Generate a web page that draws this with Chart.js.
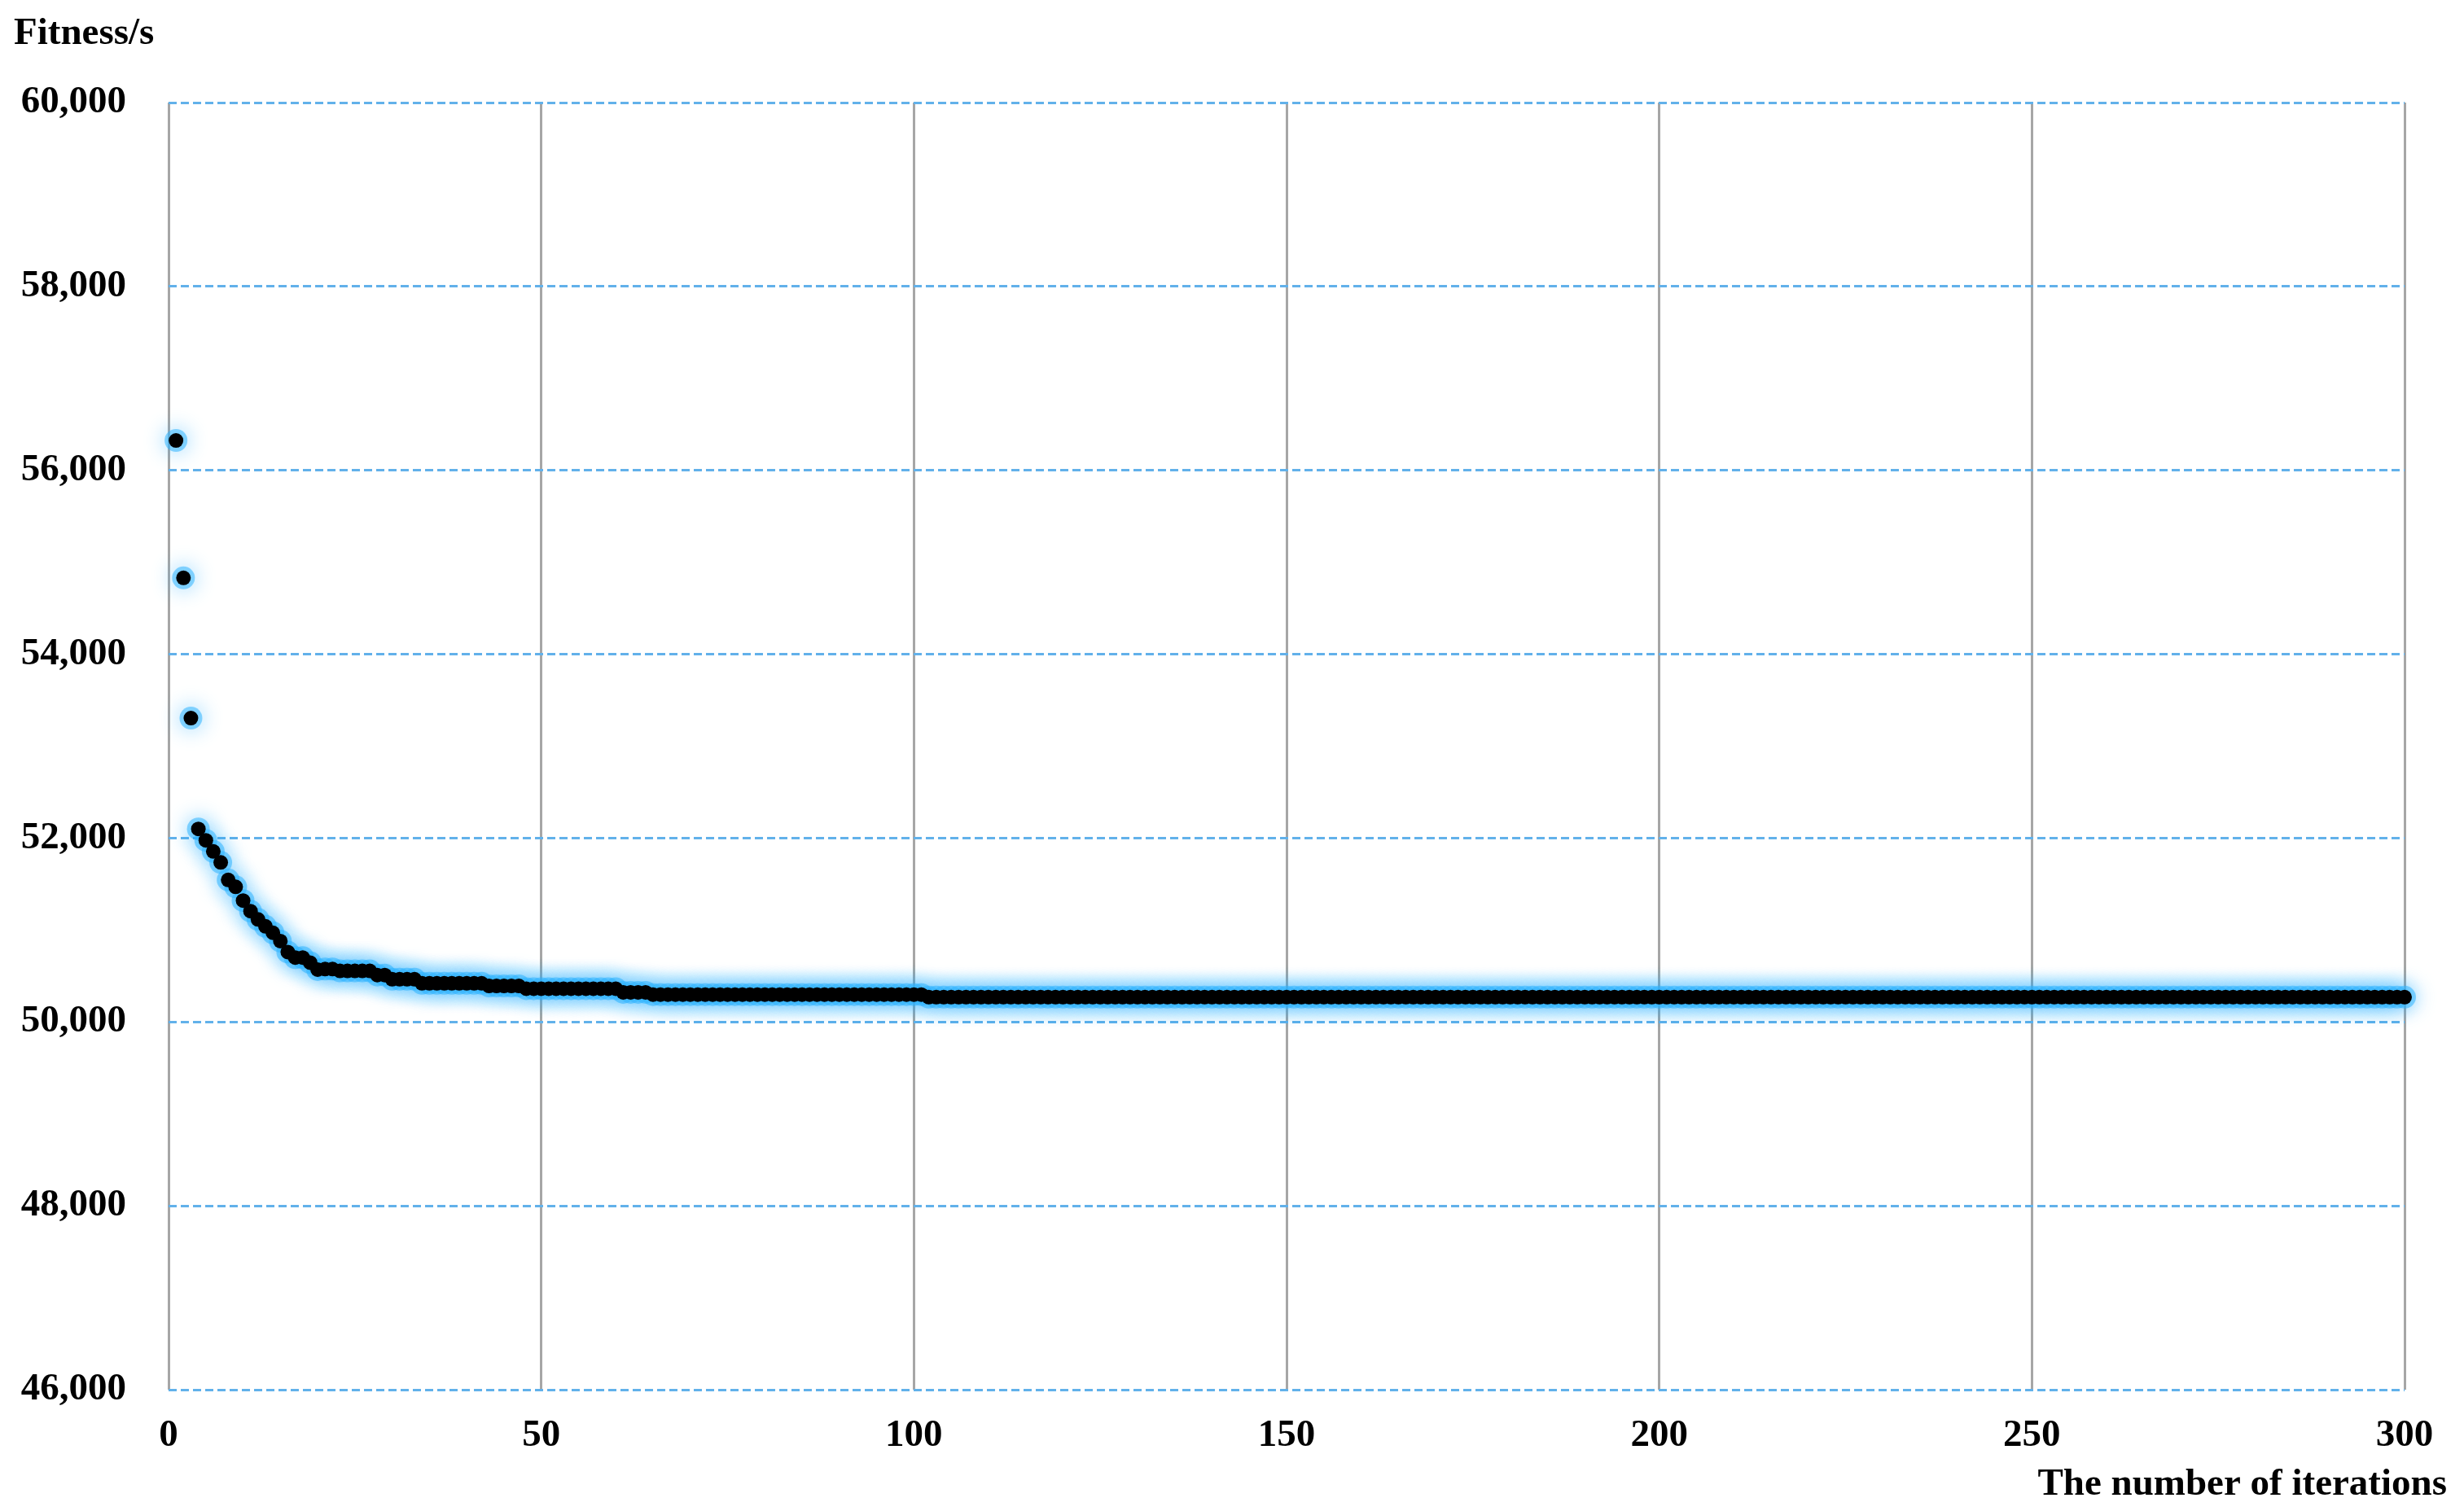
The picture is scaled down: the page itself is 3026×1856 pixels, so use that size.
<!DOCTYPE html>
<html>
<head>
<meta charset="utf-8">
<title>Fitness vs iterations</title>
<script src="https://cdn.jsdelivr.net/npm/chart.js@4.4.1/dist/chart.umd.min.js"></script>
<style>
  html, body { margin: 0; padding: 0; background: #ffffff; }
  #chart { display: block; }
</style>
</head>
<body>
<canvas id="chart" width="3026" height="1856"></canvas>
<script>
// Best fitness for the first iterations, read point by point
const earlyIterations = [1, 2, 3, 4, 5, 6, 7, 8, 9, 10, 11, 12, 13, 14, 15, 16, 17, 18, 19, 20, 21, 22];
const earlyFitness = [56325, 54830, 53305, 52100, 51976, 51855, 51735, 51545, 51470, 51320, 51205,
                      51115, 51040, 50970, 50880, 50760, 50700, 50700, 50645, 50570, 50575, 50575];

// Later iterations sit on flat plateaus: first iteration, last iteration, fitness
const plateauStart = [23, 28, 30, 34, 43, 48, 61, 65, 102];
const plateauEnd = [27, 29, 33, 42, 47, 60, 64, 101, 300];
const plateauFitness = [50555, 50510, 50465, 50420, 50392, 50362, 50322, 50298, 50270];

// Axis ticks
const xTicks = [0, 50, 100, 150, 200, 250, 300];
const yTicks = [46000, 48000, 50000, 52000, 54000, 56000, 58000, 60000];

const yTitle = 'Fitness/s';
const xTitle = 'The number of iterations';

(function() {
    'use strict';

    const FAMILY = '"Liberation Serif", "Times New Roman", serif';
    const FONT = 'bold 47px ' + FAMILY;

    // Build the point list from the readings above
    const points = earlyIterations.map((it, i) => ({ x: it, y: earlyFitness[i] }));
    plateauStart.forEach((start, p) => {
        for (let it = start; it <= plateauEnd[p]; it++) {
            points.push({ x: it, y: plateauFitness[p] });
        }
    });

    // Blue shadow on the halo layer only (black dots go on top without it)
    const glowPlugin = {
        id: 'glow',
        beforeDatasetDraw: function(chart, args) {
            if (args.index !== 1) return;
            const ctx = chart.ctx;
            ctx.save();
            ctx.shadowColor = 'rgba(40, 175, 255, 0.9)';
            ctx.shadowBlur = 26;
        },
        afterDatasetDraw: function(chart, args) {
            if (args.index !== 1) return;
            chart.ctx.restore();
        }
    };

    // Axis titles placed like the original figure
    const titlesPlugin = {
        id: 'axisTitles',
        afterDraw: function(chart) {
            const ctx = chart.ctx;
            ctx.save();
            ctx.fillStyle = '#000000';
            ctx.font = FONT;
            ctx.textBaseline = 'alphabetic';
            ctx.textAlign = 'left';
            ctx.fillText(yTitle, 17, 54);
            ctx.textAlign = 'right';
            ctx.fillText(xTitle, 3005, 1836);
            ctx.restore();
        }
    };

    const ctx = document.getElementById('chart').getContext('2d');

    new Chart(ctx, {
        type: 'scatter',
        data: {
            datasets: [{
                label: 'Fitness',
                data: points,
                order: 1,
                backgroundColor: '#000000',
                borderColor: '#000000',
                borderWidth: 0,
                pointRadius: 9,
                pointHoverRadius: 9,
                showLine: false,
                clip: false
            }, {
                label: 'Halo',
                data: points,
                order: 2,
                backgroundColor: 'rgba(50, 180, 255, 0.55)',
                borderWidth: 0,
                pointRadius: 14,
                pointHoverRadius: 14,
                showLine: false,
                clip: false
            }]
        },
        options: {
            responsive: false,
            animation: false,
            devicePixelRatio: 1,
            layout: {
                autoPadding: false,
                padding: { left: 0, right: 73, top: 126, bottom: 0 }
            },
            scales: {
                x: {
                    type: 'linear',
                    min: xTicks[0],
                    max: xTicks[xTicks.length - 1],
                    afterBuildTicks: function(scale) {
                        scale.ticks = xTicks.map(v => ({ value: v }));
                    },
                    afterFit: function(scale) {
                        scale.height = 149;
                    },
                    ticks: {
                        color: '#000000',
                        font: { family: FAMILY, size: 47, weight: 'bold' },
                        padding: 29,
                        maxRotation: 0,
                        autoSkip: false
                    },
                    grid: {
                        color: '#a6a6a6',
                        lineWidth: 3,
                        drawTicks: false
                    },
                    border: { display: false }
                },
                y: {
                    type: 'linear',
                    min: yTicks[0],
                    max: yTicks[yTicks.length - 1],
                    afterBuildTicks: function(scale) {
                        scale.ticks = yTicks.map(v => ({ value: v }));
                    },
                    afterFit: function(scale) {
                        scale.width = 207;
                    },
                    ticks: {
                        color: '#000000',
                        font: { family: FAMILY, size: 47, weight: 'bold' },
                        padding: 52,
                        callback: v => v.toLocaleString('en-US')
                    },
                    grid: {
                        color: '#62b1ea',
                        lineWidth: 3,
                        drawTicks: false
                    },
                    border: { display: false, dash: [10, 5] }
                }
            },
            plugins: {
                legend: { display: false },
                title: { display: false },
                tooltip: { enabled: false }
            }
        },
        plugins: [glowPlugin, titlesPlugin]
    });
})();
</script>
</body>
</html>
